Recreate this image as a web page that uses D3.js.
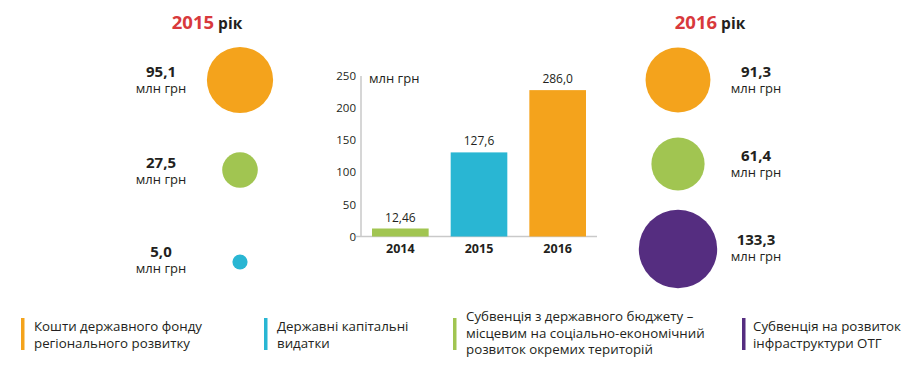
<!DOCTYPE html>
<html lang="uk">
<head>
<meta charset="utf-8">
<title>Фонди 2015-2016</title>
<script src="https://d3js.org/d3.v7.min.js"></script>
<style>
  body { margin: 0; background: #fff; }
  svg { display: block; font-family: "Open Sans", sans-serif; }
  .dark { fill: #231f20; }
  .axis path, .axis line { stroke: #c9c9c9; stroke-width: 1.5px; }
</style>
</head>
<body>
<svg width="923" height="370"></svg>
<script>
// categories / colours
const categories = ["Кошти державного фонду регіонального розвитку",
                    "Державні капітальні видатки",
                    "Субвенція з державного бюджету – місцевим на соціально-економічний розвиток окремих територій",
                    "Субвенція на розвиток інфраструктури ОТГ"];
const catColors = ["#f4a31c", "#29b6d3", "#a1c551", "#552d80"];

// circles per year (category index, value, label)
const cat2015 = [0, 2, 1];
const val2015 = [95.1, 27.5, 5.0];
const lab2015 = ["95,1", "27,5", "5,0"];
const cat2016 = [0, 2, 3];
const val2016 = [91.3, 61.4, 133.3];
const lab2016 = ["91,3", "61,4", "133,3"];

// bar chart
const years = ["2014", "2015", "2016"];
const barCat = [2, 1, 0];
const barLabels = ["12,46", "127,6", "286,0"];
const barHeights = [12.46, 131, 228];   // as drawn in the picture
const yTicks = [0, 50, 100, 150, 200, 250];

const legendLines = [
  ["Кошти державного фонду", "регіонального розвитку"],
  ["Державні капітальні", "видатки"],
  ["Субвенція з державного бюджету –", "місцевим на соціально-економічний", "розвиток окремих територій"],
  ["Субвенція на розвиток", "інфраструктури ОТГ"]
];

const svg = d3.select("svg");
const rScale = d3.scaleSqrt().domain([0, 133.3]).range([0, 39.2]);

// year titles
function yearTitle(x, yr) {
  const t = svg.append("text").attr("x", x).attr("y", 29)
    .attr("text-anchor", "middle").attr("font-weight", 700);
  t.append("tspan").attr("fill", "#d8393c").attr("font-size", 18.5).text(yr);
  t.append("tspan").attr("class", "dark").attr("font-size", 15.5).text(" рік");
}
yearTitle(207, "2015");
yearTitle(710, "2016");

// bubbles
function bubbles(cats, vals, labs, cx, ys, lx, labYs) {
  const g = svg.append("g");
  g.selectAll("circle").data(vals).join("circle")
    .attr("cx", cx).attr("cy", (d, i) => ys[i])
    .attr("r", d => rScale(d))
    .attr("fill", (d, i) => catColors[cats[i]]);
  const t = g.selectAll("g.lab").data(labs).join("g").attr("class", "lab")
    .attr("transform", (d, i) => `translate(${lx},${labYs[i]})`);
  t.append("text").attr("class", "dark").attr("text-anchor", "middle")
    .attr("font-weight", 700).attr("font-size", 15).attr("y", 0).text(d => d);
  t.append("text").attr("class", "dark").attr("text-anchor", "middle")
    .attr("font-size", 13).attr("y", 16).text("млн грн");
}
bubbles(cat2015, val2015, lab2015, 240, [80, 170, 262], 161, [77, 168, 257]);
bubbles(cat2016, val2016, lab2016, 678, [80, 164, 249], 756, [77, 161, 245]);

// bar chart
const x = d3.scaleBand().domain(years).range([361, 597]).paddingInner(0.28).paddingOuter(0.14);
const y = d3.scaleLinear().domain([0, 250]).range([236.5, 76]);

svg.append("g").attr("class", "axis").attr("transform", "translate(361,0)")
  .call(d3.axisLeft(y).tickValues(yTicks).tickSize(0).tickPadding(5))
  .call(g => g.select(".domain").attr("d", "M0,236.5V76"))
  .call(g => g.selectAll("text").attr("font-size", 11.5).attr("fill", "#231f20")
    .attr("font-family", "Open Sans, sans-serif"));

svg.append("line").attr("x1", 356).attr("x2", 597).attr("y1", 236.5).attr("y2", 236.5)
  .attr("stroke", "#c9c9c9").attr("stroke-width", 1.5);

svg.selectAll("rect.bar").data(years).join("rect").attr("class", "bar")
  .attr("x", d => x(d)).attr("width", x.bandwidth())
  .attr("y", (d, i) => y(barHeights[i]))
  .attr("height", (d, i) => y(0) - y(barHeights[i]))
  .attr("fill", (d, i) => catColors[barCat[i]]);

svg.selectAll("text.val").data(years).join("text").attr("class", "val dark")
  .attr("x", d => x(d) + x.bandwidth() / 2)
  .attr("y", (d, i) => y(barHeights[i]) - 7)
  .attr("text-anchor", "middle").attr("font-size", 12)
  .text((d, i) => barLabels[i]);

svg.selectAll("text.yr").data(years).join("text").attr("class", "yr dark")
  .attr("x", d => x(d) + x.bandwidth() / 2).attr("y", 253)
  .attr("text-anchor", "middle").attr("font-size", 12.5).attr("font-weight", 700)
  .text(d => d);

svg.append("text").attr("class", "dark").attr("x", 369).attr("y", 83)
  .attr("font-size", 13).text("млн грн");

// legend
const legX = [21, 264, 453, 742];
const leg = svg.selectAll("g.leg").data(categories).join("g").attr("class", "leg")
  .attr("transform", (d, i) => `translate(${legX[i]},318)`);
leg.append("rect").attr("width", 3.5).attr("height", 32)
  .attr("fill", (d, i) => catColors[i]);
leg.each(function(d, i) {
  const lines = legendLines[i];
  const y0 = lines.length === 3 ? 3 : 13;
  d3.select(this).selectAll("text").data(lines).join("text").attr("class", "dark")
    .attr("x", i === 3 ? 11 : 13).attr("y", (l, j) => y0 + j * 16.5)
    .attr("font-size", 13.3).text(l => l);
});
</script>
</body>
</html>
